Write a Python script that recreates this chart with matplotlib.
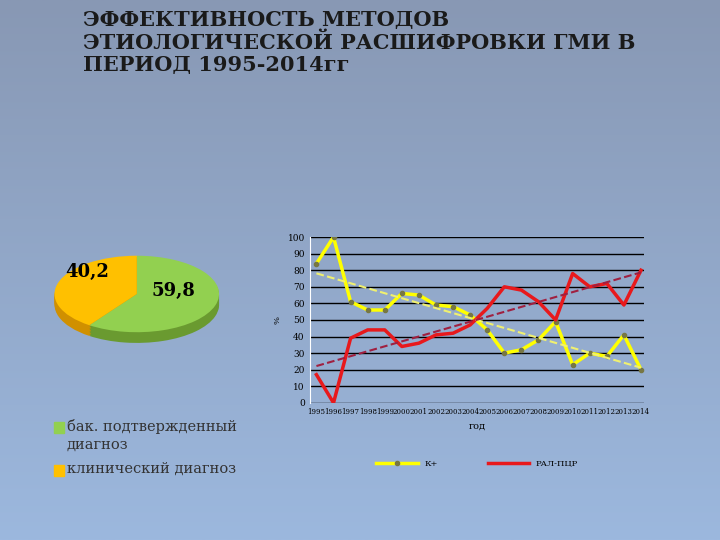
import matplotlib.pyplot as plt
import numpy as np

years = list(range(1995, 2015))
k_plus = [84, 100, 61, 56, 56, 66, 65, 59, 58, 53, 44, 30, 32, 38, 49, 23, 30, 28, 41, 20]
ral_pcr = [17, 0, 39, 44, 44, 34, 36, 41, 42, 47, 57, 70, 68, 61, 50, 78, 70, 72, 59, 80]

pie_values = [59.8, 40.2]
pie_labels = ["59,8", "40,2"]
pie_legend = ["бак. подтвержденный\nдиагноз", "клинический диагноз"]
pie_colors = ["#92d050", "#ffc000"]
pie_side = ["#6a9a30", "#d09000"]

fig = plt.figure(figsize=(7.2, 5.4), dpi=100)

# фон с градиентом
bg = fig.add_axes([0, 0, 1, 1])
grad = np.linspace(0, 1, 256).reshape(-1, 1)
top = np.array([0x88, 0x98, 0xb4]) / 255
bot = np.array([0x9c, 0xb8, 0xde]) / 255
img = top + (bot - top) * grad[..., None]
bg.imshow(img, aspect="auto", extent=[0, 1, 0, 1])
bg.axis("off")

fig.text(0.115, 0.982, "ЭФФЕКТИВНОСТЬ МЕТОДОВ\nЭТИОЛОГИЧЕСКОЙ РАСШИФРОВКИ ГМИ В\nПЕРИОД 1995-2014гг",
         family="DejaVu Serif", fontsize=15, fontweight="bold", color="#1a1a1a",
         va="top", ha="left", linespacing=1.15)

# круговая диаграмма (сплющенная, с боковой стенкой)
pax = fig.add_axes([0.07, 0.36, 0.24, 0.17])
for dy in np.linspace(-0.28, 0, 8):
    cols = pie_side if dy < 0 else pie_colors
    pax.pie(pie_values, colors=cols, startangle=90, counterclock=False,
            center=(0, dy), radius=1)
pax.set_aspect("auto")
pax.set_xlim(-1.05, 1.05)
pax.set_ylim(-1.35, 1.05)
pax.text(0.45, -0.05, pie_labels[0], family="DejaVu Serif", fontsize=13, fontweight="bold", ha="center")
pax.text(-0.6, 0.45, pie_labels[1], family="DejaVu Serif", fontsize=13, fontweight="bold", ha="center")
pax.axis("off")

ly = [0.208, 0.128]
for i in range(2):
    fig.patches.append(plt.Rectangle((0.075, ly[i] - 0.01), 0.014, 0.02, color=pie_colors[i],
                                     transform=fig.transFigure))
fig.text(0.093, ly[0] + 0.016, pie_legend[0], family="DejaVu Serif", fontsize=10.5, color="#333333",
         va="top", linespacing=1.3)
fig.text(0.093, ly[1] + 0.016, pie_legend[1], family="DejaVu Serif", fontsize=10.5, color="#333333",
         va="top")

# линейный график
ax = fig.add_axes([0.43, 0.254, 0.465, 0.307])
ax.set_facecolor("none")
x = np.arange(len(years))
ax.plot(x, k_plus, color="#ffff00", lw=2.5, marker="o", ms=3, mfc="#777744", mec="#777744", label="К+")
ax.plot(x, ral_pcr, color="#e8191c", lw=2.5, label="РАЛ-ПЦР")
pk = np.polyfit(x, k_plus, 1)
pr = np.polyfit(x, ral_pcr, 1)
ax.plot(x, np.polyval(pk, x), color="#f0f070", ls="--", lw=1.5)
ax.plot(x, np.polyval(pr, x), color="#a02040", ls="--", lw=1.5)
ax.set_ylim(0, 100)
ax.set_xlim(-0.4, 19.2)
ax.set_yticks(range(0, 101, 10))
ax.set_xticks(x)
ax.set_xticklabels(years, family="DejaVu Serif", fontsize=5)
ax.tick_params(axis="y", labelsize=6.5, length=0)
ax.tick_params(axis="x", length=0)
for t in ax.get_yticklabels():
    t.set_family("DejaVu Serif")
ax.grid(axis="y", color="black", lw=1)
for s in ["top", "right", "bottom"]:
    ax.spines[s].set_visible(False)
ax.spines["left"].set_color("white")
ax.set_ylabel("%", fontsize=6, family="DejaVu Serif")
ax.set_xlabel("год", fontsize=7, family="DejaVu Serif")
ax.legend(loc="upper center", bbox_to_anchor=(0.5, -0.3), ncol=2, frameon=False,
          prop={"family": "DejaVu Serif", "size": 6}, columnspacing=6, handlelength=5)

fig.savefig("out.png", dpi=100)
